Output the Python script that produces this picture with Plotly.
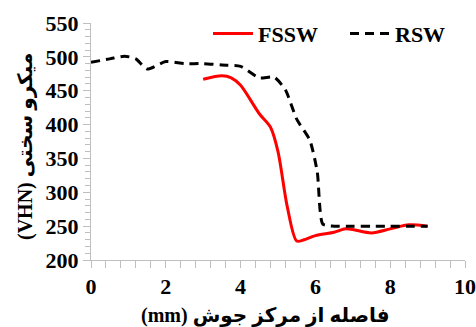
import plotly.graph_objects as go

# Data
fssw_x = [3.0, 3.5, 3.75, 4.0, 4.5, 4.8, 5.0, 5.25, 5.5, 5.7, 6.0, 6.5, 6.8, 7.0, 7.5, 8.0, 8.5, 9.0]
fssw_y = [467, 472, 469, 458, 416, 396, 360, 278, 228, 230, 236, 241, 246, 245, 240, 246, 252, 250]

rsw_x = [0.0, 0.5, 0.9, 1.2, 1.5, 2.0, 2.5, 3.0, 3.5, 4.0, 4.5, 4.9, 5.2, 5.5, 5.85, 6.05, 6.2, 6.5, 7.0, 7.5, 8.0, 8.5, 9.0]
rsw_y = [492, 497, 501, 497, 482, 493, 490, 490, 488, 486, 469, 470, 451, 408, 377, 330, 253, 250, 250, 250, 250, 250, 250]

x_ticks = [0, 2, 4, 6, 8, 10]
y_ticks = [200, 250, 300, 350, 400, 450, 500, 550]

x_title = "(mm) فاصله از مرکز جوش"
y_title = "(VHN) میکرو سختی"

font_main = "Liberation Serif, Times New Roman, DejaVu Sans"

fig = go.Figure()
fig.add_trace(go.Scatter(
    x=fssw_x, y=fssw_y, mode="lines", name="FSSW",
    line=dict(color="#ff0000", width=3, shape="spline", smoothing=0.8),
))
fig.add_trace(go.Scatter(
    x=rsw_x, y=rsw_y, mode="lines", name="RSW",
    line=dict(color="#000000", width=3, dash="9px,6px", shape="spline", smoothing=0.6),
))

axis_common = dict(
    showgrid=False, zeroline=False, showline=True, linecolor="#bfbfbf", linewidth=1,
    ticks="outside", tickcolor="#bfbfbf", ticklen=7, tickwidth=1,
    tickfont=dict(family=font_main, size=22, color="#000000", weight="bold"),
)

title_font = dict(family=font_main, size=20, color="#000000", weight="bold")

fig.update_layout(
    width=476, height=327,
    margin=dict(l=91, r=11, t=23, b=67, autoexpand=False),
    paper_bgcolor="white", plot_bgcolor="white",
    showlegend=True,
    legend=dict(
        orientation="h", x=(225 - 91 - 17) / 374, xanchor="left", y=0.955, yanchor="middle",
        font=dict(family=font_main, size=22, color="#000000", weight="bold"),
        bgcolor="rgba(0,0,0,0)", itemwidth=40, tracegroupgap=0,
        entrywidth=82, entrywidthmode="pixels",
    ),
    xaxis=dict(
        range=[0, 10], tickvals=x_ticks, ticktext=[str(v) for v in x_ticks],
        minor=dict(dtick=0.4, ticks="outside", ticklen=7, tickcolor="#bfbfbf", showgrid=False),
        **axis_common,
    ),
    yaxis=dict(
        range=[200, 550], tickvals=y_ticks, ticktext=[str(v) for v in y_ticks],
        minor=dict(dtick=10, ticks="outside", ticklen=5, tickcolor="#bfbfbf", showgrid=False),
        **axis_common,
    ),
    annotations=[
        dict(text=x_title, xref="paper", yref="paper",
             x=(265 - 91) / 374, y=-(315 - 260) / 237, xanchor="center", yanchor="middle",
             showarrow=False, font=title_font),
        dict(text=y_title, xref="paper", yref="paper", textangle=-90,
             x=-(91 - 25) / 374, y=(260 - 147) / 237, xanchor="center", yanchor="middle",
             showarrow=False, font=title_font),
    ],
)

fig.write_html(
    "out.html",
    config={"displayModeBar": False},
    post_script="document.body.style.margin='0';document.body.style.overflow='hidden';",
)
